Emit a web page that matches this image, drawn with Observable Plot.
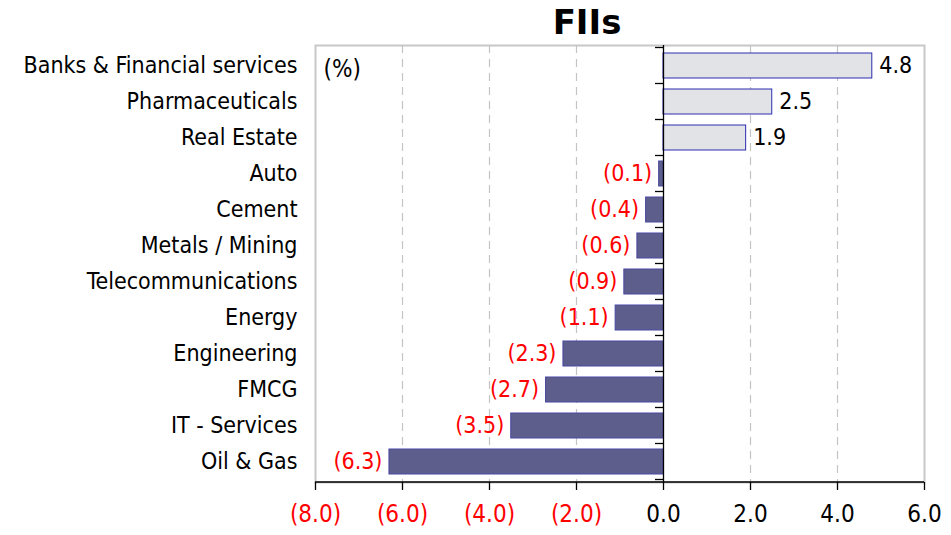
<!DOCTYPE html>
<html>
<head>
<meta charset="utf-8">
<script src="https://cdn.jsdelivr.net/npm/d3@7"></script>
<script src="https://cdn.jsdelivr.net/npm/@observablehq/plot@0.6"></script>
<style>
  body { margin: 0; background: #fff; font-family: "DejaVu Sans Condensed", "DejaVu Sans", sans-serif; }
  #chart svg { display: block; }
</style>
</head>
<body>
<div id="chart"></div>
<script>
const title = "FIIs";
const unitLabel = "(%)";
const categories = [
  "Banks & Financial services", "Pharmaceuticals", "Real Estate", "Auto", "Cement",
  "Metals / Mining", "Telecommunications", "Energy", "Engineering", "FMCG",
  "IT - Services", "Oil & Gas"
];
const values = [4.8, 2.5, 1.9, -0.1, -0.4, -0.6, -0.9, -1.1, -2.3, -2.7, -3.5, -6.3];
const xTicks = [-8, -6, -4, -2, 0, 2, 4, 6];
const gridTicks = [-6, -4, -2, 2, 4];

const data = categories.map((c, i) => ({category: c, value: values[i]}));
const fmt = v => v < 0 ? `(${Math.abs(v).toFixed(1)})` : v.toFixed(1);
const colorOf = v => v < 0 ? "#ff0000" : "#000000";

// custom mark: category-axis ticks at band boundaries and the bottom axis line, via the scales
const axisLines = (index, scales, values, dimensions) => {
  const sy = scales.scales.y, sx = scales.scales.x;
  const ys = categories.map(c => sy.apply(c));
  const step = ys[1] - ys[0];
  const bw = sy.bandwidth;
  const x0 = sx.apply(0);
  const g = d3.create("svg:g");
  const bounds = ys.map(v => v - (step - bw) / 2);
  bounds.push(ys[ys.length - 1] + bw + (step - bw) / 2);
  for (const b of bounds) {
    g.append("line").attr("x1", x0 - 8).attr("x2", x0).attr("y1", b).attr("y2", b)
      .attr("stroke", "#000").attr("stroke-width", 1.3);
  }
  const yb = dimensions.height - dimensions.marginBottom;
  g.append("line").attr("x1", sx.apply(xTicks[0])).attr("x2", sx.apply(xTicks[xTicks.length - 1]))
    .attr("y1", yb).attr("y2", yb).attr("stroke", "#000").attr("stroke-width", 1.5);
  return g.node();
};

const chart = Plot.plot({
  width: 951,
  height: 535,
  marginTop: 45,
  marginBottom: 53,
  marginLeft: 315,
  marginRight: 27,
  style: {fontFamily: "'DejaVu Sans Condensed', 'DejaVu Sans', sans-serif", fontSize: "23px", color: "#000", background: "#fff"},
  x: {domain: [-8, 6], axis: null},
  y: {domain: categories, paddingInner: 0.31, paddingOuter: 0.155, axis: null},
  marks: [
    Plot.frame({stroke: "#c8c8c8", strokeWidth: 2}),
    Plot.ruleX(gridTicks, {stroke: "#c4c4c4", strokeWidth: 1.2, strokeDasharray: "8,6"}),
    Plot.barX(data, {
      y: "category", x1: 0, x2: "value",
      fill: d => d.value < 0 ? "#5e5e8d" : "#e1e3e7",
      stroke: d => d.value < 0 ? "#4848a0" : "#2c2cb0",
      strokeWidth: 1
    }),
    Plot.ruleX([0], {stroke: "#000", strokeWidth: 1.3}),
    Plot.axisY({anchor: "left", tickSize: 0, tickPadding: 18, fontSize: 23, label: null}),
    Plot.axisX({ticks: xTicks, anchor: "bottom", tickSize: 8, tickFormat: () => "", label: null, strokeWidth: 1.3}),
    axisLines,
    Plot.text(data.filter(d => d.value >= 0), {
      y: "category", x: "value", text: d => fmt(d.value),
      textAnchor: "start", dx: 7, fill: d => colorOf(d.value), fontSize: 23
    }),
    Plot.text(data.filter(d => d.value < 0), {
      y: "category", x: "value", text: d => fmt(d.value),
      textAnchor: "end", dx: -7, fill: d => colorOf(d.value), fontSize: 23
    }),
    Plot.text(xTicks, {x: d => d, frameAnchor: "bottom", dy: 39, text: fmt, fill: colorOf, fontSize: 24}),
    Plot.text([unitLabel], {frameAnchor: "top-left", dx: 8, dy: 24, textAnchor: "start", lineAnchor: "middle", fontSize: 24}),
    Plot.text([title], {frameAnchor: "top", dx: -33, dy: -22, lineAnchor: "middle", fontSize: 34, fontWeight: "bold", fontFamily: "'DejaVu Sans', sans-serif"})
  ]
});
document.getElementById("chart").appendChild(chart);
</script>
</body>
</html>
